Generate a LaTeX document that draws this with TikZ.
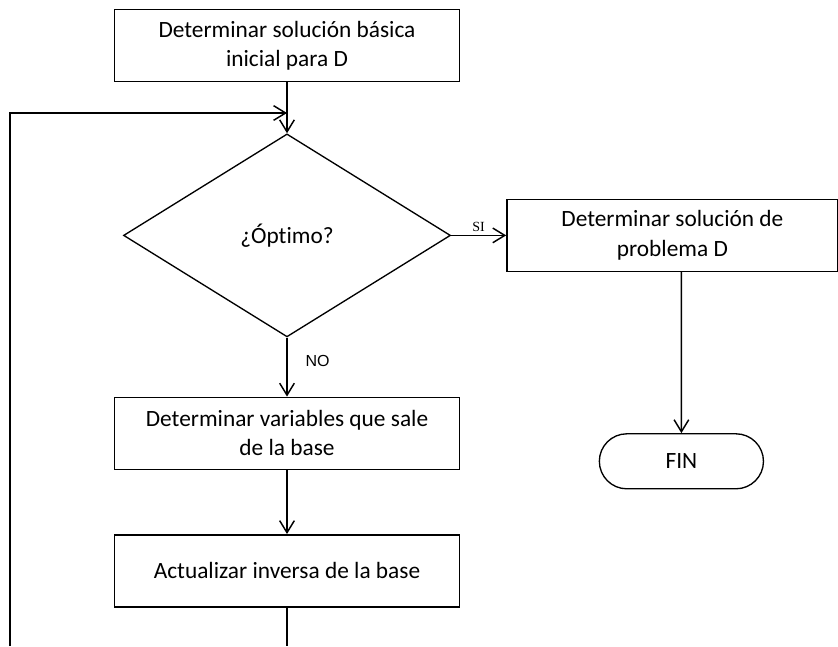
\documentclass[tikz,border=0pt]{standalone}
\usepackage{fontspec}
\setmainfont[Ligatures=NoCommon]{Carlito}
\newfontfamily\labelserif{Liberation Serif}
\newfontfamily\labelsans{Liberation Sans}
\usetikzlibrary{arrows.meta,shapes.geometric,shapes.misc,positioning}

\begin{document}
\begin{tikzpicture}
    \tikzstyle{step box}=[rectangle, draw, line width=1.1pt, minimum width=258.75pt, minimum height=54pt, align=center, font=\fontsize{17.5}{22}\selectfont]
    \tikzstyle{decision}=[diamond, draw, line width=1pt, minimum width=245.25pt, minimum height=152.25pt, inner sep=0pt, font=\fontsize{17.5}{22}\selectfont]
    \tikzstyle{terminal}=[rounded rectangle, draw, line width=1pt, minimum width=129.75pt, minimum height=41.25pt, font=\fontsize{17.5}{22}\selectfont]
    \tikzstyle{connect}=[-{Straight Barb[length=9pt,width=11pt]}, line width=1.1pt]
    \useasboundingbox (0,0) rectangle (628.5pt,-484.5pt);
    \node[step box] (init) at (215.25pt,-34.125pt) {Determinar solución básica\\inicial para D};
    \node[decision] (opt) [below=38.25pt of init] {¿Óptimo?};
    \node[step box] (var) [below=44.25pt of opt] {Determinar variables que sale\\de la base};
    \node[step box] (upd) [below=48pt of var] {Actualizar inversa de la base};
    \node[step box,minimum width=248.25pt] (sol) [right=41.25pt of opt] {Determinar solución de\\problema D};
    \node[terminal] (fin) [below=120.75pt of sol,xshift=6.75pt] {FIN};
    \coordinate (loopin) at (215.25pt,-84.75pt);
    \coordinate (loopbot) at (7.5pt,-484.5pt);
    \draw[connect] (init) -- (opt);
    \draw[connect] (opt) -- node[above,inner sep=2pt,font=\labelserif\fontsize{10.5}{12}\selectfont] {SI} (sol);
    \draw[connect] (opt) -- node[right=10pt,pos=0.39,font=\labelsans\fontsize{12}{14}\selectfont] {NO} (var);
    \draw[connect] (var) -- (upd);
    \draw[connect] (sol.south -| fin.north) -- (fin);
    \draw[line width=1.1pt] (upd.south) -- (upd.south |- loopbot);
    \draw[connect] (loopbot) |- (loopin);
\end{tikzpicture}
\end{document}
